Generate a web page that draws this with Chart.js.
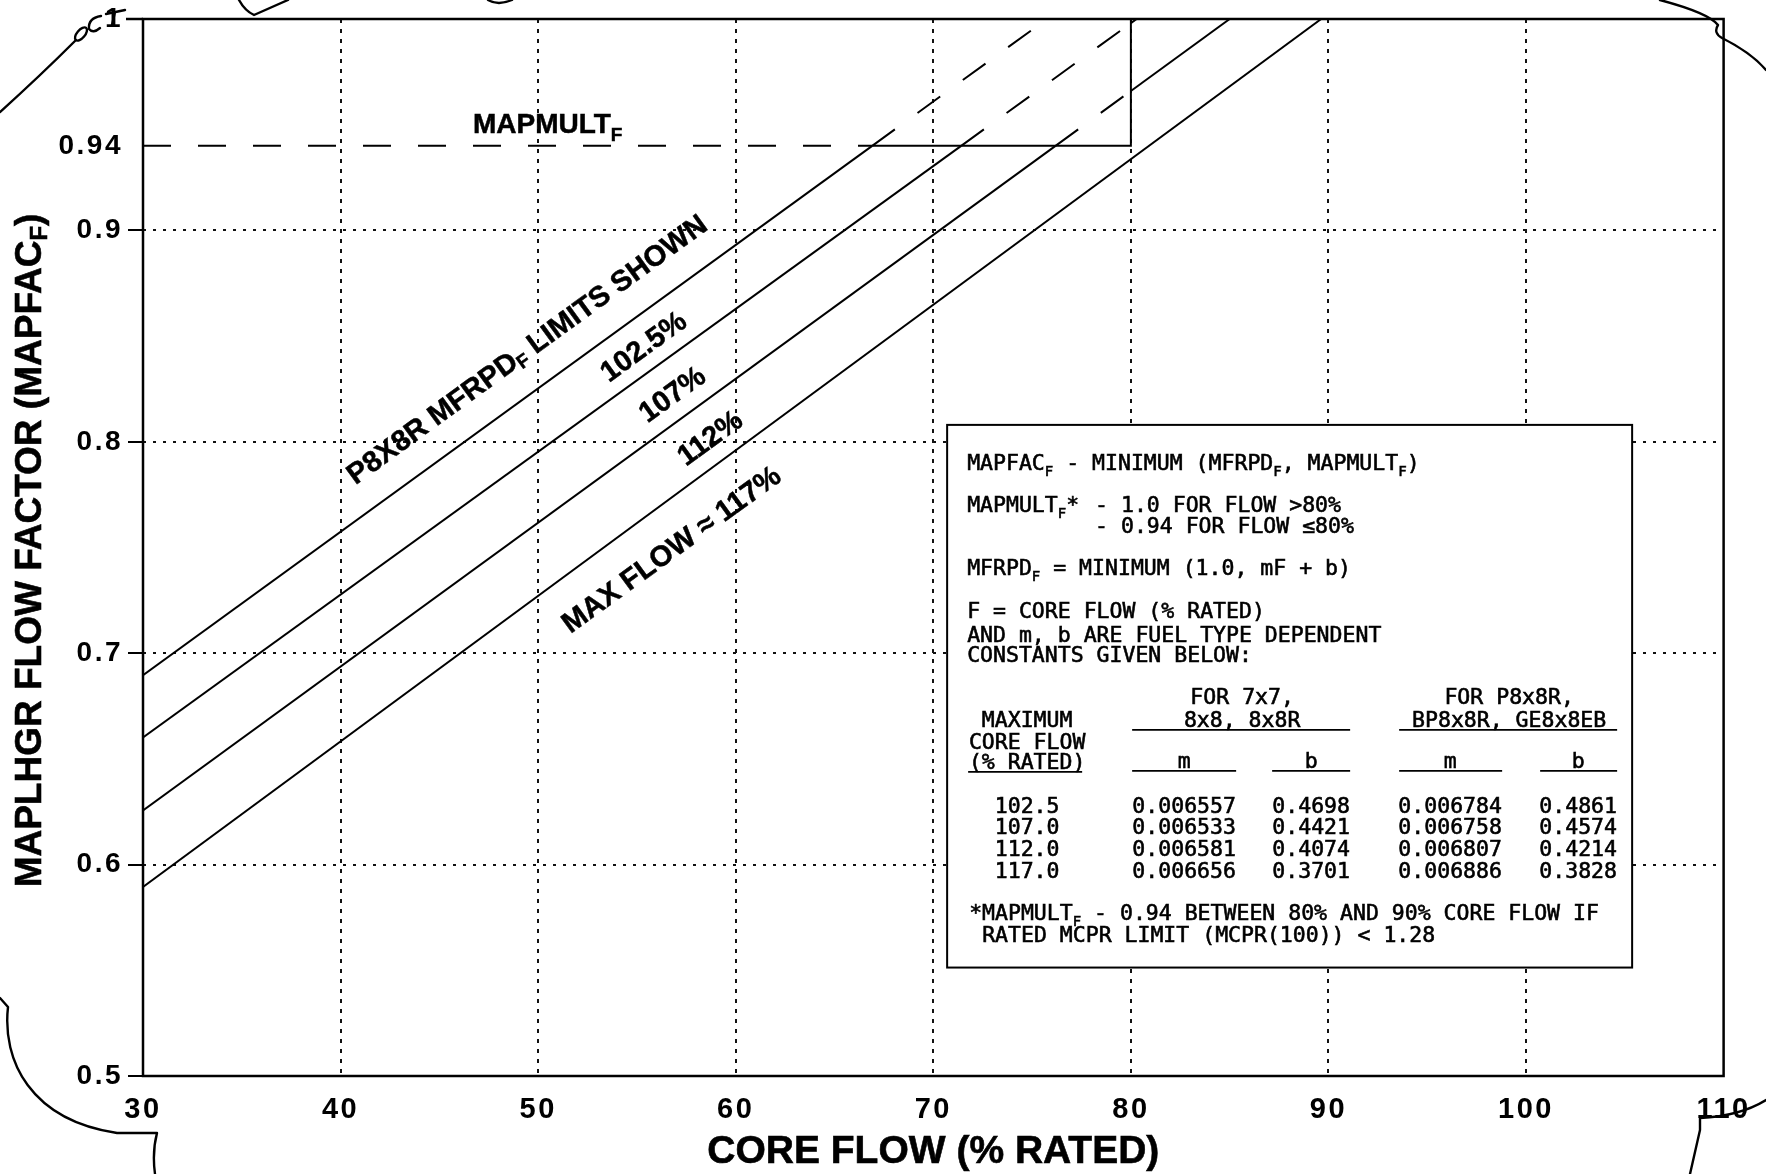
<!DOCTYPE html>
<html>
<head>
<meta charset="utf-8">
<script src="https://cdn.jsdelivr.net/npm/chart.js@4.4.1/dist/chart.umd.min.js"></script>
<style>
  html, body { margin: 0; padding: 0; background: #fff; }
  #wrap { width: 1766px; height: 1174px; position: relative; }
</style>
</head>
<body>
<div id="wrap"><canvas id="chart" width="1766" height="1174"></canvas></div>
<script>
// ---- chart values ----
const flowTicks = [30, 40, 50, 60, 70, 80, 90, 100, 110];
const factorTicks = [0.5, 0.6, 0.7, 0.8, 0.9, 0.94, 1];
const maxCoreFlow = ['102.5', '107.0', '112.0', '117.0'];
const limitLabels = ['102.5%', '107%', '112%', 'MAX FLOW \u2248 117%'];
const slope7x7 = [0.006557, 0.006533, 0.006581, 0.006656];
const intercept7x7 = [0.4698, 0.4421, 0.4074, 0.3701];
const slopeP8 = [0.006784, 0.006758, 0.006807, 0.006886];
const interceptP8 = [0.4861, 0.4574, 0.4214, 0.3828];
const mapmultLow = 0.94;
const mapmultHigh = 1.0;
const mapmultBreakFlow = 80;

// ---- layout / style settings ----
const BOLD = '"Liberation Sans", Arial, Helvetica, sans-serif';
const MONO = '"DejaVu Sans Mono", "Liberation Mono", monospace';
const INK = '#000';
const LINE_DASH = [28, 28];
const CAP_DASH = [28, 27];
const tableBox = { flowLeft: 70.70, flowRight: 105.37, factorTop: 0.808, factorBottom: 0.5513 };
const textAnchors = {
  mapmult: { flow: 46.7, factor: 0.9459 },
  title: { flow: 49.47, factor: 0.8432 },
  limits: [
    { flow: 55.36, factor: 0.8446 },
    { flow: 56.82, factor: 0.8220 },
    { flow: 58.73, factor: 0.8013 },
    { flow: 56.77, factor: 0.7486 }
  ]
};

// MFRPD_F = min(1.0, m*F + b), split where MAPMULT_F (0.94 up to 80%) caps it
function limitPoints(m, b) {
  const start = flowTicks[0];
  const capFlow = (mapmultLow - b) / m;
  const topFlow = (mapmultHigh - b) / m;
  const pts = [{ x: start, y: m * start + b }];
  if (capFlow < mapmultBreakFlow) {
    pts.push({ x: capFlow, y: mapmultLow });
    if (topFlow > mapmultBreakFlow) {
      pts.push({ x: mapmultBreakFlow, y: m * mapmultBreakFlow + b });
    }
  }
  pts.push({ x: topFlow, y: mapmultHigh });
  return pts;
}

const aboveCap = (ctx) =>
  ctx.p0.parsed.y >= mapmultLow - 1e-9 && ctx.p1.parsed.x <= mapmultBreakFlow + 1e-9;

const limitSets = slopeP8.map((m, i) => ({
  label: limitLabels[i],
  data: limitPoints(m, interceptP8[i]),
  borderColor: INK,
  borderWidth: 2,
  pointRadius: 0,
  showLine: true,
  fill: false,
  segment: { borderDash: (ctx) => (aboveCap(ctx) ? LINE_DASH : undefined) }
}));

const firstCapFlow = (mapmultLow - interceptP8[0]) / slopeP8[0];
const mapmultSet = {
  label: 'MAPMULT',
  data: [
    { x: flowTicks[0], y: mapmultLow },
    { x: firstCapFlow, y: mapmultLow },
    { x: mapmultBreakFlow, y: mapmultLow },
    { x: mapmultBreakFlow, y: mapmultHigh }
  ],
  borderColor: INK,
  borderWidth: 2,
  pointRadius: 0,
  showLine: true,
  fill: false,
  segment: { borderDash: (ctx) => (ctx.p0DataIndex === 0 ? CAP_DASH : undefined) }
};

// ---- text helpers ----
function richWidth(ctx, parts, font, subFont) {
  let w = 0;
  for (const [t, sub] of parts) { ctx.font = sub ? subFont : font; w += ctx.measureText(t).width; }
  return w;
}
function drawRich(ctx, parts, x, y, font, subFont, subDy, align, pen) {
  const w = richWidth(ctx, parts, font, subFont);
  let cx = align === 'center' ? x - w / 2 : (align === 'right' ? x - w : x);
  ctx.textAlign = 'left';
  for (const [t, sub] of parts) {
    ctx.font = sub ? subFont : font;
    ctx.fillText(t, cx, y + (sub ? subDy : 0));
    if (pen) ctx.strokeText(t, cx, y + (sub ? subDy : 0));
    cx += ctx.measureText(t).width;
  }
  return cx;
}
function penText(ctx, t, x, y) {
  ctx.fillText(t, x, y);
  ctx.strokeText(t, x, y);
}
function underline(ctx, x1, x2, y) {
  ctx.beginPath(); ctx.moveTo(x1, y); ctx.lineTo(x2, y); ctx.stroke();
}

function drawTable(ctx, chart) {
  const xs = chart.scales.x, ys = chart.scales.y;
  const L = xs.getPixelForValue(tableBox.flowLeft);
  const R = xs.getPixelForValue(tableBox.flowRight);
  const T = ys.getPixelForValue(tableBox.factorTop);
  const B = ys.getPixelForValue(tableBox.factorBottom);
  ctx.save();
  ctx.fillStyle = '#fff';
  ctx.fillRect(L, T, R - L, B - T);
  ctx.lineWidth = 2;
  ctx.strokeStyle = INK;
  ctx.strokeRect(L, T, R - L, B - T);

  const f = '21.5px ' + MONO, fs = '14px ' + MONO, sd = 6;
  ctx.fillStyle = INK;
  ctx.textBaseline = 'alphabetic';
  ctx.lineWidth = 0.6;
  const x0 = L + 20;

  drawRich(ctx, [['MAPFAC'], ['F', 1], [' - MINIMUM (MFRPD'], ['F', 1], [', MAPMULT'], ['F', 1], [')']], x0, T + 45, f, fs, sd, 'left', true);
  const dashX = drawRich(ctx, [['MAPMULT'], ['F', 1], ['* ']], x0, T + 87, f, fs, sd, 'left', true);
  drawRich(ctx, [['- 1.0 FOR FLOW >80%']], dashX + 3, T + 87, f, fs, sd, 'left', true);
  drawRich(ctx, [['- 0.94 FOR FLOW \u226480%']], dashX + 3, T + 108, f, fs, sd, 'left', true);
  drawRich(ctx, [['MFRPD'], ['F', 1], [' = MINIMUM (1.0, mF + b)']], x0, T + 150, f, fs, sd, 'left', true);
  drawRich(ctx, [['F = CORE FLOW (% RATED)']], x0, T + 193, f, fs, sd, 'left', true);
  drawRich(ctx, [['AND m, b ARE FUEL TYPE DEPENDENT']], x0, T + 217, f, fs, sd, 'left', true);
  drawRich(ctx, [['CONSTANTS GIVEN BELOW:']], x0, T + 237, f, fs, sd, 'left', true);

  // column headers
  const g1 = L + 295, g2 = L + 562, c0 = L + 80;
  const cols = [L + 237, L + 364, L + 503, L + 631];
  ctx.font = f;
  ctx.textAlign = 'center';
  penText(ctx, 'FOR 7x7,', g1, T + 279);
  penText(ctx, 'FOR P8x8R,', g2, T + 279);
  penText(ctx, 'MAXIMUM', c0, T + 302);
  penText(ctx, '8x8, 8x8R', g1, T + 302);
  penText(ctx, 'BP8x8R, GE8x8EB', g2, T + 302);
  penText(ctx, 'CORE FLOW', c0, T + 324);
  penText(ctx, '(% RATED)', c0, T + 344);
  penText(ctx, 'm', cols[0], T + 343);
  penText(ctx, 'b', cols[1], T + 343);
  penText(ctx, 'm', cols[2], T + 343);
  penText(ctx, 'b', cols[3], T + 343);
  ctx.lineWidth = 1.8;
  underline(ctx, L + 185, L + 403, T + 305);
  underline(ctx, L + 452, L + 670, T + 305);
  underline(ctx, L + 21, L + 135, T + 347);
  underline(ctx, L + 185, L + 289, T + 346);
  underline(ctx, L + 325, L + 403, T + 346);
  underline(ctx, L + 452, L + 555, T + 346);
  underline(ctx, L + 593, L + 670, T + 346);

  // constants table
  ctx.lineWidth = 0.6;
  const rowY = [388, 409, 431, 453];
  maxCoreFlow.forEach((flow, i) => {
    const y = T + rowY[i];
    penText(ctx, flow, c0, y);
    penText(ctx, slope7x7[i].toFixed(6), cols[0], y);
    penText(ctx, intercept7x7[i].toFixed(4), cols[1], y);
    penText(ctx, slopeP8[i].toFixed(6), cols[2], y);
    penText(ctx, interceptP8[i].toFixed(4), cols[3], y);
  });

  drawRich(ctx, [['*MAPMULT'], ['F', 1], [' - 0.94 BETWEEN 80% AND 90% CORE FLOW IF']], x0 + 2, T + 495, f, fs, sd, 'left', true);
  drawRich(ctx, [['RATED MCPR LIMIT (MCPR(100)) < 1.28']], L + 35, T + 517, f, fs, sd, 'left', true);
  ctx.restore();
}

function drawLimitLabels(ctx, chart) {
  const xs = chart.scales.x, ys = chart.scales.y;
  const pxPerFlow = xs.getPixelForValue(1) - xs.getPixelForValue(0);
  const pxPerFactor = ys.getPixelForValue(0) - ys.getPixelForValue(1);
  const angle = -Math.atan(slopeP8[0] * pxPerFactor / pxPerFlow);
  const f = 'bold 29px ' + BOLD, fs = 'bold 19px ' + BOLD;
  ctx.save();
  ctx.fillStyle = INK;
  ctx.strokeStyle = INK;
  ctx.lineWidth = 0.5;
  ctx.textBaseline = 'middle';
  const put = (anchor, parts) => {
    ctx.save();
    ctx.translate(xs.getPixelForValue(anchor.flow), ys.getPixelForValue(anchor.factor));
    ctx.rotate(angle);
    drawRich(ctx, parts, 0, 0, f, fs, 7, 'center', true);
    ctx.restore();
  };
  put(textAnchors.title, [['P8X8R MFRPD'], ['F', 1], [' LIMITS SHOWN']]);
  limitLabels.forEach((t, i) => put(textAnchors.limits[i], [[t]]));
  ctx.restore();

  // MAPMULT_F label above the 0.94 cap
  ctx.save();
  ctx.fillStyle = INK;
  ctx.strokeStyle = INK;
  ctx.lineWidth = 0.5;
  ctx.textBaseline = 'alphabetic';
  drawRich(ctx, [['MAPMULT'], ['F', 1]],
    xs.getPixelForValue(textAnchors.mapmult.flow), ys.getPixelForValue(textAnchors.mapmult.factor),
    'bold 28px ' + BOLD, 'bold 19px ' + BOLD, 8, 'left', true);
  ctx.restore();
}

function drawFrame(ctx, area) {
  ctx.save();
  ctx.strokeStyle = INK;
  ctx.lineWidth = 2.5;
  ctx.strokeRect(area.left, area.top, area.right - area.left, area.bottom - area.top);
  // top edge runs a little past the axis, like the 1.0 tick
  ctx.beginPath(); ctx.moveTo(area.left - 17, area.top); ctx.lineTo(area.left, area.top); ctx.stroke();
  ctx.restore();
}

function drawAxisTitles(ctx, area) {
  ctx.save();
  ctx.fillStyle = INK;
  ctx.strokeStyle = INK;
  ctx.lineWidth = 0.6;
  ctx.textBaseline = 'middle';
  ctx.translate(area.left - 112, (area.top + area.bottom) / 2 + 3);
  ctx.rotate(-Math.PI / 2);
  drawRich(ctx, [['MAPLHGR FLOW FACTOR (MAPFAC'], ['F', 1], [')']], 0, 0,
    'bold 37px ' + BOLD, 'bold 24px ' + BOLD, 9, 'center', true);
  ctx.restore();
  ctx.save();
  ctx.fillStyle = INK;
  ctx.strokeStyle = INK;
  ctx.lineWidth = 0.6;
  ctx.textBaseline = 'alphabetic';
  ctx.textAlign = 'center';
  ctx.font = 'bold 39px ' + BOLD;
  penText(ctx, 'CORE FLOW (% RATED)', (area.left + area.right) / 2, area.bottom + 87);
  ctx.restore();
}

// hand-drawn revision marks around the sheet
function drawRevisionMarks(ctx) {
  ctx.save();
  ctx.strokeStyle = INK;
  ctx.lineWidth = 2.4;
  ctx.lineCap = 'round';
  ctx.lineJoin = 'round';
  const path = (fn) => { ctx.beginPath(); fn(); ctx.stroke(); };
  // top left stroke and initials
  path(() => { ctx.moveTo(0, 112); ctx.quadraticCurveTo(40, 76, 76, 40); });
  path(() => { ctx.ellipse(81, 34, 4, 8, 0.7, 0, Math.PI * 2); });
  path(() => { ctx.moveTo(101, 16); ctx.quadraticCurveTo(88, 18, 89, 29); ctx.quadraticCurveTo(93, 34, 100, 28); });
  path(() => { ctx.moveTo(106, 14); ctx.lineTo(125, 10); ctx.moveTo(115, 12); ctx.lineTo(112, 25); });
  // top notch
  path(() => { ctx.moveTo(239, 0); ctx.quadraticCurveTo(245, 11, 254, 15); ctx.lineTo(288, 0); });
  path(() => { ctx.moveTo(488, 0); ctx.quadraticCurveTo(498, 6, 512, 0); });
  // top right corner
  path(() => {
    ctx.moveTo(1660, 0);
    ctx.bezierCurveTo(1690, 8, 1712, 17, 1718, 25);
    ctx.quadraticCurveTo(1713, 33, 1722, 38);
    ctx.bezierCurveTo(1740, 47, 1755, 57, 1766, 70);
  });
  // lower left bracket
  path(() => {
    ctx.moveTo(0, 998);
    ctx.lineTo(8, 1007);
    ctx.bezierCurveTo(2, 1060, 30, 1120, 117, 1133);
    ctx.lineTo(157, 1133);
    ctx.quadraticCurveTo(152, 1152, 155, 1174);
  });
  // lower right bracket
  path(() => {
    ctx.moveTo(1766, 1100);
    ctx.quadraticCurveTo(1740, 1116, 1700, 1118);
    ctx.lineTo(1700, 1130);
    ctx.quadraticCurveTo(1695, 1152, 1690, 1174);
  });
  ctx.restore();
}

const sheetPlugin = {
  id: 'sheet',
  beforeDraw(chart) {
    const ctx = chart.ctx;
    ctx.save();
    ctx.fillStyle = '#fff';
    ctx.fillRect(0, 0, chart.width, chart.height);
    ctx.restore();
    // wide plotter spacing for the tick numerals
    ctx.letterSpacing = '2.5px';
  },
  beforeDatasetsDraw(chart) {
    chart.ctx.letterSpacing = '0px';
  },
  afterDatasetsDraw(chart) {
    const ctx = chart.ctx;
    drawFrame(ctx, chart.chartArea);
    drawTable(ctx, chart);
    drawLimitLabels(ctx, chart);
  },
  afterDraw(chart) {
    drawAxisTitles(chart.ctx, chart.chartArea);
    drawRevisionMarks(chart.ctx);
  }
};

const edgeFlow = (v) => v === flowTicks[0] || v === flowTicks[flowTicks.length - 1];
const unGridded = (v) => v === 0.5 || v === mapmultLow || v === 1;

new Chart(document.getElementById('chart'), {
  type: 'scatter',
  data: { datasets: [...limitSets, mapmultSet] },
  options: {
    responsive: false,
    animation: false,
    devicePixelRatio: 1,
    layout: { padding: { top: 14, right: 33, left: 0, bottom: 0 } },
    plugins: { legend: { display: false }, tooltip: { enabled: false } },
    scales: {
      x: {
        type: 'linear',
        min: flowTicks[0],
        max: flowTicks[flowTicks.length - 1],
        afterBuildTicks: (s) => { s.ticks = flowTicks.map((v) => ({ value: v })); },
        afterFit: (s) => { s.height = 98; },
        ticks: {
          autoSkip: false,
          maxRotation: 0,
          padding: 19,
          color: INK,
          font: { family: BOLD, size: 29, weight: 'bold', lineHeight: 1 },
          callback: (v) => String(v)
        },
        grid: {
          drawTicks: false,
          lineWidth: 2,
          color: (c) => (c.tick && edgeFlow(c.tick.value) ? 'rgba(0,0,0,0)' : '#111')
        },
        border: { display: false, dash: [4, 6] }
      },
      y: {
        type: 'linear',
        min: 0.5,
        max: 1,
        afterBuildTicks: (s) => { s.ticks = factorTicks.map((v) => ({ value: v })); },
        afterFit: (s) => { s.width = 143; },
        ticks: {
          autoSkip: false,
          padding: 5,
          color: INK,
          font: { family: BOLD, size: 28, weight: 'bold', lineHeight: 1 },
          callback: (v) => String(v)
        },
        grid: {
          drawTicks: true,
          tickLength: 15,
          lineWidth: 2,
          tickWidth: 2,
          color: (c) => (c.tick && unGridded(c.tick.value) ? 'rgba(0,0,0,0)' : '#111'),
          tickColor: (c) => (c.tick && c.tick.value === mapmultLow ? 'rgba(0,0,0,0)' : INK)
        },
        border: { display: false, dash: [3, 7] }
      }
    }
  },
  plugins: [sheetPlugin]
});
</script>
</body>
</html>
